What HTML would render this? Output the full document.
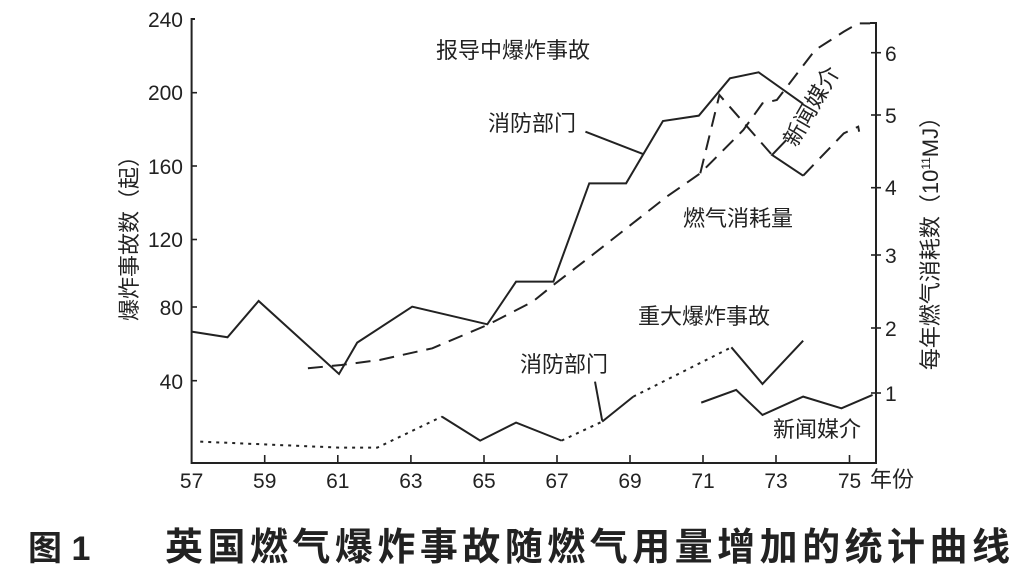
<!DOCTYPE html>
<html><head><meta charset="utf-8"><style>
html,body{margin:0;padding:0;background:#fff;}
body{width:1026px;height:582px;overflow:hidden;}
text{font-family:"Liberation Sans","Noto Sans CJK SC",sans-serif;fill:#222;}
</style></head><body>
<svg width="1026" height="582" viewBox="0 0 1026 582" xmlns="http://www.w3.org/2000/svg">
<g stroke="#222" fill="none" stroke-width="2">
<polyline points="195,19 191.6,19 191.6,463 876,463 876,23 870,23"/>
<g stroke-width="1.6">
<line x1="191.6" y1="92.7" x2="197" y2="92.7"/>
<line x1="191.6" y1="166" x2="197" y2="166"/>
<line x1="191.6" y1="239.5" x2="197" y2="239.5"/>
<line x1="191.6" y1="307" x2="197" y2="307"/>
<line x1="191.6" y1="380.7" x2="197" y2="380.7"/>
<line x1="871" y1="52.7" x2="881" y2="52.7"/>
<line x1="871" y1="115" x2="881" y2="115"/>
<line x1="871" y1="187.7" x2="881" y2="187.7"/>
<line x1="871" y1="255" x2="881" y2="255"/>
<line x1="871" y1="328" x2="881" y2="328"/>
<line x1="871" y1="393" x2="881" y2="393"/>
<line x1="264.7" y1="463" x2="264.7" y2="455"/>
<line x1="337.8" y1="463" x2="337.8" y2="455"/>
<line x1="410.9" y1="463" x2="410.9" y2="455"/>
<line x1="484" y1="463" x2="484" y2="455"/>
<line x1="557" y1="463" x2="557" y2="455"/>
<line x1="630" y1="463" x2="630" y2="455"/>
<line x1="703" y1="463" x2="703" y2="455"/>
<line x1="776" y1="463" x2="776" y2="455"/>
<line x1="849.5" y1="463" x2="849.5" y2="455"/>
</g>
<g transform="translate(150,0) scale(0.4785,0.3333)">
<polyline vector-effect="non-scaling-stroke" points="87,995 162,1012 227,903 395,1122 433,1028 548,920 705,973 765,845 843,845 918,550 995,550 1072,363 1147,347 1212,235 1272,217 1365,312"/>
<polyline vector-effect="non-scaling-stroke" points="910,395 1030,462"/>
<polyline vector-effect="non-scaling-stroke" stroke-dasharray="15,9" points="330,1105 400,1095 480,1080 590,1045 705,975 800,905 843,855 920,770 1000,680 1080,590 1150,520 1240,390 1280,310 1310,300 1390,150 1450,95 1480,70 1505,70"/>
<polyline vector-effect="non-scaling-stroke" stroke-dasharray="15,9" points="1150,520 1190,285 1300,465"/>
<polyline vector-effect="non-scaling-stroke" points="1330,420 1300,465 1365,527"/>
<polyline vector-effect="non-scaling-stroke" stroke-dasharray="15,9" points="1365,527 1450,400 1480,380 1482,395"/>
<polyline vector-effect="non-scaling-stroke" stroke-dasharray="3,5" points="105,1325 395,1343 475,1343 610,1250"/>
<polyline vector-effect="non-scaling-stroke" points="610,1250 690,1322 765,1268 860,1322"/>
<polyline vector-effect="non-scaling-stroke" stroke-dasharray="3,5" points="860,1322 945,1265"/>
<polyline vector-effect="non-scaling-stroke" points="945,1265 1010,1190"/>
<polyline vector-effect="non-scaling-stroke" stroke-dasharray="3,5" points="1010,1190 1215,1042"/>
<polyline vector-effect="non-scaling-stroke" points="1215,1042 1280,1152 1365,1022"/>
<polyline vector-effect="non-scaling-stroke" points="930,1145 945,1262"/>
<polyline vector-effect="non-scaling-stroke" points="1152,1208 1225,1170 1280,1245 1365,1190 1445,1225 1510,1185"/>
</g>
</g>
<g font-size="21">
<text x="183" y="27" text-anchor="end">240</text>
<text x="183" y="100" text-anchor="end">200</text>
<text x="183" y="174" text-anchor="end">160</text>
<text x="183" y="247" text-anchor="end">120</text>
<text x="183" y="315" text-anchor="end">80</text>
<text x="183" y="389" text-anchor="end">40</text>
<text x="885" y="61">6</text>
<text x="885" y="123">5</text>
<text x="885" y="195">4</text>
<text x="885" y="263">3</text>
<text x="885" y="336">2</text>
<text x="885" y="401">1</text>
<g text-anchor="middle">
<text x="191.6" y="488">57</text><text x="264.7" y="488">59</text><text x="337.8" y="488">61</text>
<text x="410.9" y="488">63</text><text x="484" y="488">65</text><text x="557" y="488">67</text>
<text x="630" y="488">69</text><text x="703" y="488">71</text><text x="776" y="488">73</text>
<text x="849.5" y="488">75</text>
</g>
</g>
<g font-size="22">
<text x="870" y="487">年份</text>
<text x="436" y="58">报导中爆炸事故</text>
<text x="488" y="131">消防部门</text>
<text x="683" y="226">燃气消耗量</text>
<text x="638" y="324">重大爆炸事故</text>
<text x="520" y="372">消防部门</text>
<text x="773" y="437">新闻媒介</text>
<text x="0" y="0" transform="translate(796,148) rotate(-60)">新闻媒介</text>
<text x="0" y="0" text-anchor="middle" transform="translate(137,233) rotate(-90)">爆炸事故数（起）</text>
<text x="0" y="0" text-anchor="middle" transform="translate(938,238) rotate(-90)">每年燃气消耗数（10<tspan font-size="12" dy="-8">11</tspan><tspan dy="8">MJ）</tspan></text>
</g>
<text x="28" y="560" font-size="34" font-weight="bold">图 1</text>
<text x="165" y="560" font-size="38" font-weight="bold" textLength="845">英国燃气爆炸事故随燃气用量增加的统计曲线</text>
</svg>
</body></html>
